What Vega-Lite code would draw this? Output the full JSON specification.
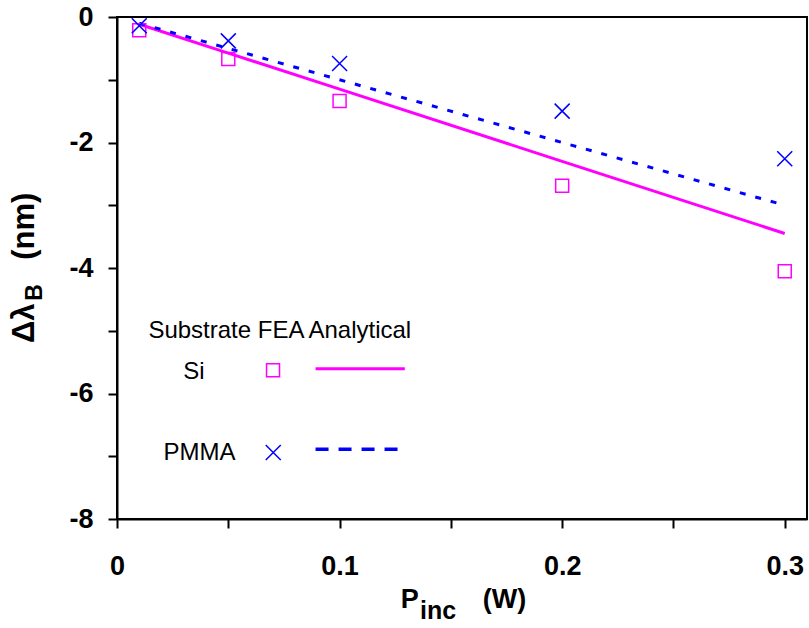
{
  "$schema": "https://vega.github.io/schema/vega-lite/v6.json",
  "width": 690,
  "height": 502,
  "autosize": {"type": "none"},
  "padding": {"left": 117, "top": 17, "right": 2, "bottom": 109},
  "background": "white",
  "config": {
    "view": {"stroke": "black", "strokeWidth": 2},
    "font": "Liberation Sans",
    "axis": {
      "domainColor": "black", "domainWidth": 2, "tickColor": "black", "tickWidth": 2,
      "tickSize": 9, "grid": false, "labelFont": "Liberation Sans", "labelFontSize": 27,
      "labelFontWeight": "bold", "labelColor": "black", "labelOverlap": false, "labelFlush": false
    }
  },
  "datasets": {
    "fea": [
      {"P": 0.01, "dl": -0.21, "sub": "Si"},
      {"P": 0.05, "dl": -0.67, "sub": "Si"},
      {"P": 0.1, "dl": -1.34, "sub": "Si"},
      {"P": 0.2, "dl": -2.69, "sub": "Si"},
      {"P": 0.3, "dl": -4.05, "sub": "Si"},
      {"P": 0.01, "dl": -0.14, "sub": "PMMA"},
      {"P": 0.05, "dl": -0.38, "sub": "PMMA"},
      {"P": 0.1, "dl": -0.74, "sub": "PMMA"},
      {"P": 0.2, "dl": -1.5, "sub": "PMMA"},
      {"P": 0.3, "dl": -2.26, "sub": "PMMA"}
    ],
    "model": [
      {"P": 0.01, "dl": -0.115, "sub": "Si"},
      {"P": 0.05, "dl": -0.575, "sub": "Si"},
      {"P": 0.1, "dl": -1.15, "sub": "Si"},
      {"P": 0.2, "dl": -2.3, "sub": "Si"},
      {"P": 0.3, "dl": -3.45, "sub": "Si"},
      {"P": 0.01, "dl": -0.1, "sub": "PMMA"},
      {"P": 0.05, "dl": -0.5, "sub": "PMMA"},
      {"P": 0.1, "dl": -1.0, "sub": "PMMA"},
      {"P": 0.2, "dl": -2.0, "sub": "PMMA"},
      {"P": 0.3, "dl": -3.0, "sub": "PMMA"}
    ]
  },
  "encoding": {
    "x": {
      "field": "P", "type": "quantitative",
      "scale": {"domain": [0, 0.31], "nice": false, "zero": false},
      "axis": {"title": null, "values": [0, 0.05, 0.1, 0.15, 0.2, 0.25, 0.3],
        "labelExpr": "abs(datum.value*10 - round(datum.value*10)) < 0.001 ? format(datum.value, '~g') : ''",
        "labelPadding": 25}
    },
    "y": {
      "field": "dl", "type": "quantitative",
      "scale": {"domain": [-8, 0], "nice": false, "zero": false},
      "axis": {"title": null, "values": [-8, -7, -6, -5, -4, -3, -2, -1, 0],
        "labelExpr": "datum.value % 2 == 0 ? '' + datum.value : ''",
        "labelPadding": 15}
    }
  },
  "layer": [
    {
      "data": {"name": "model"},
      "transform": [{"filter": "datum.sub == 'Si'"}],
      "mark": {"type": "line", "color": "#FF00FF", "strokeWidth": 3}
    },
    {
      "data": {"name": "model"},
      "transform": [{"filter": "datum.sub == 'PMMA'"}],
      "mark": {"type": "line", "color": "#0000FF", "strokeWidth": 3, "strokeDash": [6, 10]}
    },
    {
      "data": {"name": "fea"},
      "transform": [{"filter": "datum.sub == 'Si'"}],
      "mark": {"type": "point", "shape": "square", "filled": false, "color": "#FF00FF", "size": 169, "strokeWidth": 1.5, "opacity": 1}
    },
    {
      "data": {"name": "fea"},
      "transform": [{"filter": "datum.sub == 'PMMA'"}],
      "mark": {"type": "point", "shape": "M-1,-1L1,1M1,-1L-1,1", "filled": false, "color": "#0000FF", "size": 225, "strokeWidth": 1.5, "opacity": 1}
    },
    {
      "data": {"values": [
        {"P": 0.0141, "dl": -5.115, "label": "Substrate FEA Analytical"},
        {"P": 0.0298, "dl": -5.77, "label": "Si"},
        {"P": 0.0209, "dl": -7.06, "label": "PMMA"}
      ]},
      "mark": {"type": "text", "align": "left", "baseline": "alphabetic", "fontSize": 24, "color": "black"},
      "encoding": {"text": {"field": "label"}}
    },
    {
      "data": {"values": [{"P": 0.0701, "dl": -5.63}]},
      "mark": {"type": "point", "shape": "square", "filled": false, "color": "#FF00FF", "size": 169, "strokeWidth": 1.5, "opacity": 1}
    },
    {
      "data": {"values": [{"P": 0.0702, "dl": -6.94}]},
      "mark": {"type": "point", "shape": "M-1,-1L1,1M1,-1L-1,1", "filled": false, "color": "#0000FF", "size": 225, "strokeWidth": 1.5, "opacity": 1}
    },
    {
      "data": {"values": [{"P": 0.0892, "dl": -5.605}, {"P": 0.1293, "dl": -5.605}]},
      "mark": {"type": "line", "color": "#FF00FF", "strokeWidth": 3}
    },
    {
      "data": {"values": [{"P": 0.0892, "dl": -6.89}, {"P": 0.1266, "dl": -6.89}]},
      "mark": {"type": "line", "color": "#0000FF", "strokeWidth": 3.5, "strokeDash": [13, 10]}
    },
    {
      "data": {"values": [{"P": 0.1275, "dl": -9.42, "label": "P"}, {"P": 0.1643, "dl": -9.42, "label": "(W)"}]},
      "mark": {"type": "text", "align": "left", "baseline": "alphabetic", "fontSize": 27, "fontWeight": "bold", "color": "black"},
      "encoding": {"text": {"field": "label"}}
    },
    {
      "data": {"values": [{"P": 0.1361, "dl": -9.6, "label": "inc"}]},
      "mark": {"type": "text", "align": "left", "baseline": "alphabetic", "fontSize": 25, "fontWeight": "bold", "color": "black"},
      "encoding": {"text": {"field": "label"}}
    },
    {
      "data": {"values": [{"P": -0.0375, "dl": -5.195, "label": "Δλ"}, {"P": -0.0375, "dl": -3.87, "label": "(nm)"}]},
      "mark": {"type": "text", "align": "left", "baseline": "alphabetic", "angle": 270, "fontSize": 31, "fontWeight": "bold", "color": "black"},
      "encoding": {"text": {"field": "label"}}
    },
    {
      "data": {"values": [{"P": -0.0335, "dl": -4.52, "label": "B"}]},
      "mark": {"type": "text", "align": "left", "baseline": "alphabetic", "angle": 270, "fontSize": 23, "fontWeight": "bold", "color": "black"},
      "encoding": {"text": {"field": "label"}}
    }
  ]
}
